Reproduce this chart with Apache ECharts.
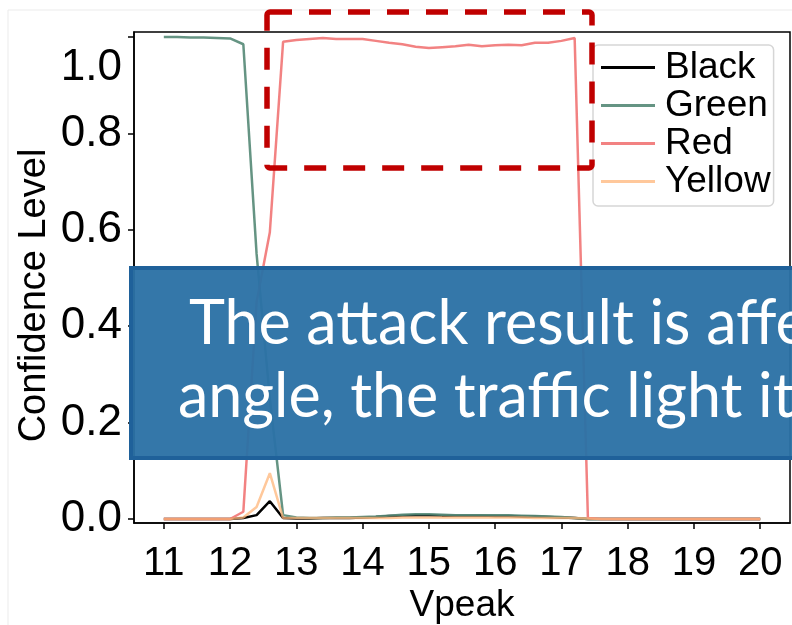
<!DOCTYPE html>
<html>
<head>
<meta charset="utf-8">
<script src="https://cdn.jsdelivr.net/npm/echarts@6/dist/echarts.min.js"></script>
<style>
  html, body { margin: 0; padding: 0; background: #ffffff; }
  #chart { width: 792px; height: 625px; }
</style>
</head>
<body>
<div id="chart"></div>
<script>
// Peak voltage sweep (x) and classifier confidence per light colour
const vpeak = [11.0, 11.2, 11.4, 11.6, 11.8, 12.0, 12.2, 12.4, 12.6, 12.8,
               13.0, 13.2, 13.4, 13.6, 13.8, 14.0, 14.2, 14.4, 14.6, 14.8,
               15.0, 15.2, 15.4, 15.6, 15.8, 16.0, 16.2, 16.4, 16.6, 16.8,
               17.0, 17.2, 17.4, 17.6, 17.8, 18.0, 18.2, 18.4, 18.6, 18.8,
               19.0, 19.2, 19.4, 19.6, 19.8, 20.0];

const black = [0, 0, 0, 0, 0, 0, 0.002, 0.008, 0.037, 0.002,
               0.001, 0.001, 0.002, 0.002, 0.002, 0.003, 0.004, 0.006, 0.007, 0.008,
               0.008, 0.007, 0.007, 0.007, 0.007, 0.006, 0.006, 0.005, 0.005, 0.004,
               0.003, 0.002, 0, 0, 0, 0, 0, 0, 0, 0,
               0, 0, 0, 0, 0, 0];

const green = [1.000, 1.000, 0.999, 0.999, 0.998, 0.997, 0.985, 0.55, 0.25, 0.008,
               0.003, 0.002, 0.002, 0.003, 0.003, 0.004, 0.005, 0.007, 0.009, 0.010,
               0.010, 0.009, 0.008, 0.008, 0.008, 0.008, 0.008, 0.007, 0.006, 0.005,
               0.004, 0.002, 0, 0, 0, 0, 0, 0, 0, 0,
               0, 0, 0, 0, 0, 0];

const red = [0, 0, 0, 0, 0, 0, 0.015, 0.45, 0.595, 0.990,
             0.994, 0.996, 0.998, 0.996, 0.996, 0.996, 0.992, 0.988, 0.985, 0.980,
             0.977, 0.979, 0.981, 0.984, 0.981, 0.983, 0.984, 0.983, 0.988, 0.988,
             0.992, 0.998, 0.002, 0, 0, 0, 0, 0, 0, 0,
             0, 0, 0, 0, 0, 0];

const yellow = [0, 0, 0, 0, 0, 0, 0.003, 0.025, 0.095, 0.002,
                0.002, 0.002, 0.002, 0.002, 0.002, 0.002, 0.002, 0.002, 0.003, 0.003,
                0.003, 0.003, 0.003, 0.003, 0.003, 0.003, 0.003, 0.003, 0.002, 0.002,
                0.002, 0.002, 0.001, 0, 0, 0, 0, 0, 0, 0,
                0, 0, 0, 0, 0, 0];

const seriesNames = ['Black', 'Green', 'Red', 'Yellow'];
const seriesColors = ['#000000', 'rgba(84,136,118,0.9)', 'rgba(240,108,108,0.85)', 'rgba(255,182,122,0.75)'];
const seriesValues = [black, green, red, yellow];

const xTicks = [11, 12, 13, 14, 15, 16, 17, 18, 19, 20];
const yTicks = [0, 0.2, 0.4, 0.6, 0.8, 1.0];
// the top tick label sits lower than its tick
const yTopLabel = '1.0';

const captionLines = ['The attack result is affe', 'angle, the traffic light it'];

const FONT = 'Liberation Sans';

const chart = echarts.init(document.getElementById('chart'), null, { renderer: 'canvas' });

const series = seriesNames.map((name, i) => ({
  name: name,
  type: 'line',
  data: vpeak.map((x, j) => [x, seriesValues[i][j]]),
  symbol: 'none',
  showSymbol: false,
  smooth: false,
  lineStyle: { color: seriesColors[i], width: 2.5 },
  itemStyle: { color: seriesColors[i] },
  emphasis: { disabled: true },
  z: 2
}));

chart.setOption({
  animation: false,
  backgroundColor: '#ffffff',
  grid: {
    left: 134, right: 2, top: 32, bottom: 102,
    outerBoundsMode: 'none',
    containLabel: false,
    show: true, borderColor: '#000000', borderWidth: 1.5, backgroundColor: 'transparent'
  },
  legend: {
    data: seriesNames,
    orient: 'vertical',
    left: 593,
    top: 45,
    padding: [4, 3, 6, 8],
    icon: 'rect',
    itemWidth: 54,
    itemHeight: 3,
    itemGap: 1,
    backgroundColor: 'rgba(255,255,255,0.85)',
    borderColor: '#d6d6d6',
    borderWidth: 1.5,
    borderRadius: 5,
    textStyle: { fontFamily: FONT, fontSize: 37, color: '#000000', padding: [0, 0, 0, 5] },
    z: 5
  },
  xAxis: {
    type: 'value',
    min: 10.55,
    max: 20.45,
    name: 'Vpeak',
    nameLocation: 'middle',
    nameGap: 64,
    nameMoveOverlap: false,
    nameTextStyle: { fontFamily: FONT, fontSize: 37, color: '#000000' },
    axisLine: { show: true, onZero: false, lineStyle: { color: '#000000', width: 1.5 } },
    axisTick: { show: true, inside: false, length: 6, customValues: xTicks, lineStyle: { color: '#000000', width: 1.5 } },
    axisLabel: { customValues: xTicks, margin: 21, fontFamily: FONT, fontSize: 40, color: '#000000', formatter: v => String(v) },
    splitLine: { show: false }
  },
  yAxis: {
    type: 'value',
    min: -0.0083,
    max: 1.0104,
    name: 'Confidence Level',
    nameLocation: 'middle',
    nameGap: 80,
    nameMoveOverlap: false,
    nameRotate: 90,
    nameTextStyle: { fontFamily: FONT, fontSize: 38, color: '#000000', padding: [0, 36, 0, 0] },
    axisLine: { show: true, onZero: false, lineStyle: { color: '#000000', width: 1.5 } },
    axisTick: { show: true, inside: false, length: 6, customValues: yTicks, lineStyle: { color: '#000000', width: 1.5 } },
    axisLabel: {
      customValues: yTicks.filter(v => v < 1),
      margin: 12,
      fontFamily: FONT,
      fontSize: 44,
      color: '#000000',
      formatter: v => v.toFixed(1)
    },
    splitLine: { show: false }
  },
  series: series,
  graphic: [
    {
      // light page frame
      type: 'rect',
      shape: { x: 8, y: 10, width: 800, height: 640 },
      style: { fill: 'none', stroke: '#ebebeb', lineWidth: 1 },
      silent: true,
      z: 0
    },
    {
      // dashed highlight around the red plateau
      type: 'rect',
      shape: { x: 267, y: 12, width: 325, height: 156, r: 3 },
      style: { fill: 'none', stroke: '#c00000', lineWidth: 5.5, lineDash: [22, 17] },
      silent: true,
      z: 10
    },
    {
      // caption banner
      type: 'rect',
      shape: { x: 131, y: 268, width: 700, height: 190 },
      style: { fill: 'rgba(44,113,165,0.96)', stroke: '#1f619a', lineWidth: 4 },
      silent: true,
      z: 20
    },
    {
      type: 'text',
      left: 189,
      top: 294,
      style: { text: captionLines[0], fill: '#ffffff', font: '61px Lato' },
      silent: true,
      z: 21
    },
    {
      type: 'text',
      left: 178,
      top: 367,
      style: { text: captionLines[1], fill: '#ffffff', font: '61px Lato' },
      silent: true,
      z: 21
    }
  ]
});

// top tick label, drawn a little below the 1.0 tick
const topTickY = chart.convertToPixel({ yAxisIndex: 0 }, 1.0);
chart.setOption({
  graphic: [{
    id: 'yTopLabel',
    type: 'text',
    x: 122,
    y: topTickY + 31,
    style: { text: yTopLabel, fill: '#000000', font: '44px "Liberation Sans"', textAlign: 'right', textVerticalAlign: 'middle' },
    silent: true,
    z: 3
  }]
});
</script>
</body>
</html>
